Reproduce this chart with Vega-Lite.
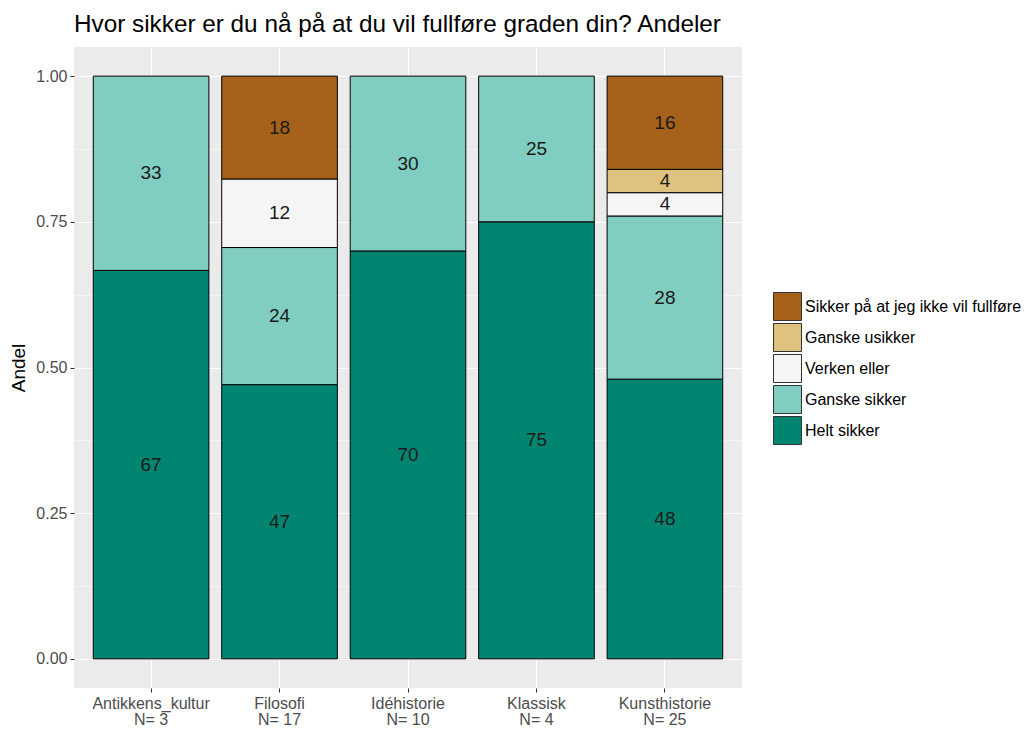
{
  "$schema": "https://vega.github.io/schema/vega-lite/v6.json",
  "width": 668,
  "height": 641,
  "autosize": "none",
  "padding": {"left": 74, "top": 47, "right": 284, "bottom": 45},
  "background": "white",
  "config": {
    "view": {"fill": "#EBEBEB", "stroke": null},
    "font": "Liberation Sans"
  },
  "title": {
    "text": "Hvor sikker er du nå på at du vil fullføre graden din? Andeler",
    "anchor": "start",
    "frame": "group",
    "fontSize": 24.3,
    "fontWeight": "normal",
    "color": "#000000",
    "baseline": "alphabetic",
    "offset": -9
  },
  "data": {
    "values": [
      {"fag": "Antikkens_kultur|N= 3", "svar": "Helt sikker", "antall": 2, "etikett": 67},
      {"fag": "Antikkens_kultur|N= 3", "svar": "Ganske sikker", "antall": 1, "etikett": 33},
      {"fag": "Filosofi|N= 17", "svar": "Helt sikker", "antall": 8, "etikett": 47},
      {"fag": "Filosofi|N= 17", "svar": "Ganske sikker", "antall": 4, "etikett": 24},
      {"fag": "Filosofi|N= 17", "svar": "Verken eller", "antall": 2, "etikett": 12},
      {"fag": "Filosofi|N= 17", "svar": "Sikker på at jeg ikke vil fullføre", "antall": 3, "etikett": 18},
      {"fag": "Idéhistorie|N= 10", "svar": "Helt sikker", "antall": 7, "etikett": 70},
      {"fag": "Idéhistorie|N= 10", "svar": "Ganske sikker", "antall": 3, "etikett": 30},
      {"fag": "Klassisk|N= 4", "svar": "Helt sikker", "antall": 3, "etikett": 75},
      {"fag": "Klassisk|N= 4", "svar": "Ganske sikker", "antall": 1, "etikett": 25},
      {"fag": "Kunsthistorie|N= 25", "svar": "Helt sikker", "antall": 12, "etikett": 48},
      {"fag": "Kunsthistorie|N= 25", "svar": "Ganske sikker", "antall": 7, "etikett": 28},
      {"fag": "Kunsthistorie|N= 25", "svar": "Verken eller", "antall": 1, "etikett": 4},
      {"fag": "Kunsthistorie|N= 25", "svar": "Ganske usikker", "antall": 1, "etikett": 4},
      {"fag": "Kunsthistorie|N= 25", "svar": "Sikker på at jeg ikke vil fullføre", "antall": 4, "etikett": 16}
    ]
  },
  "transform": [
    {"calculate": "indexof(['Helt sikker','Ganske sikker','Verken eller','Ganske usikker','Sikker på at jeg ikke vil fullføre'], datum.svar)", "as": "orden"},
    {"stack": "antall", "groupby": ["fag"], "offset": "normalize", "sort": [{"field": "orden", "order": "ascending"}], "as": ["y0", "y1"]},
    {"calculate": "(datum.y0 + datum.y1) / 2", "as": "ymid"}
  ],
  "encoding": {
    "x": {
      "field": "fag",
      "type": "nominal",
      "sort": null,
      "scale": {"paddingInner": 0.1, "paddingOuter": 0.15},
      "axis": {
        "title": null,
        "labelExpr": "split(datum.label, '|')",
        "labelAngle": 0,
        "labelColor": "#4D4D4D",
        "labelFontSize": 16,
        "labelLineHeight": 16,
        "labelPadding": 3,
        "tickColor": "#333333",
        "tickSize": 4,
        "domain": false,
        "grid": true,
        "gridColor": "#FFFFFF",
        "gridWidth": 1.1,
        "bandPosition": 0.5
      }
    }
  },
  "layer": [
    {
      "mark": {"type": "bar", "stroke": "#000000", "strokeWidth": 1},
      "encoding": {
        "y": {
          "field": "y0",
          "type": "quantitative",
          "title": "Andel",
          "scale": {"domain": [-0.05, 1.05], "nice": false, "zero": false},
          "axis": {
            "values": [0, 0.125, 0.25, 0.375, 0.5, 0.625, 0.75, 0.875, 1],
            "labelExpr": "(datum.value * 4) % 1 == 0 ? format(datum.value, '.2f') : ''",
            "labelOverlap": false,
            "labelColor": "#4D4D4D",
            "labelFontSize": 16,
            "labelPadding": 3,
            "tickColor": "#333333",
            "tickSize": 4,
            "tickOpacity": {"condition": {"test": "(datum.value * 4) % 1 != 0", "value": 0}, "value": 1},
            "gridWidth": {"condition": {"test": "(datum.value * 4) % 1 != 0", "value": 0.5}, "value": 1.1},
            "gridColor": "#FFFFFF",
            "domain": false,
            "titleFontSize": 19,
            "titleFontWeight": "normal",
            "titleColor": "#000000",
            "titlePadding": 7
          }
        },
        "y2": {"field": "y1"},
        "color": {
          "field": "svar",
          "type": "nominal",
          "scale": {
            "domain": ["Sikker på at jeg ikke vil fullføre", "Ganske usikker", "Verken eller", "Ganske sikker", "Helt sikker"],
            "range": ["#A6611A", "#DFC27D", "#F5F5F5", "#80CDC1", "#018571"]
          },
          "legend": {
            "title": null,
            "orient": "none",
            "legendX": 699,
            "legendY": 245,
            "symbolType": "square",
            "symbolSize": 784,
            "symbolStrokeColor": "#333333",
            "symbolStrokeWidth": 1,
            "symbolOpacity": 1,
            "labelFontSize": 16,
            "labelColor": "#000000",
            "labelOffset": 3,
            "labelLimit": 300,
            "rowPadding": -2
          }
        }
      }
    },
    {
      "mark": {"type": "text", "fontSize": 19, "color": "#1A1A1A", "baseline": "middle"},
      "encoding": {
        "y": {"field": "ymid", "type": "quantitative"},
        "text": {"field": "etikett", "type": "quantitative"}
      }
    }
  ]
}
